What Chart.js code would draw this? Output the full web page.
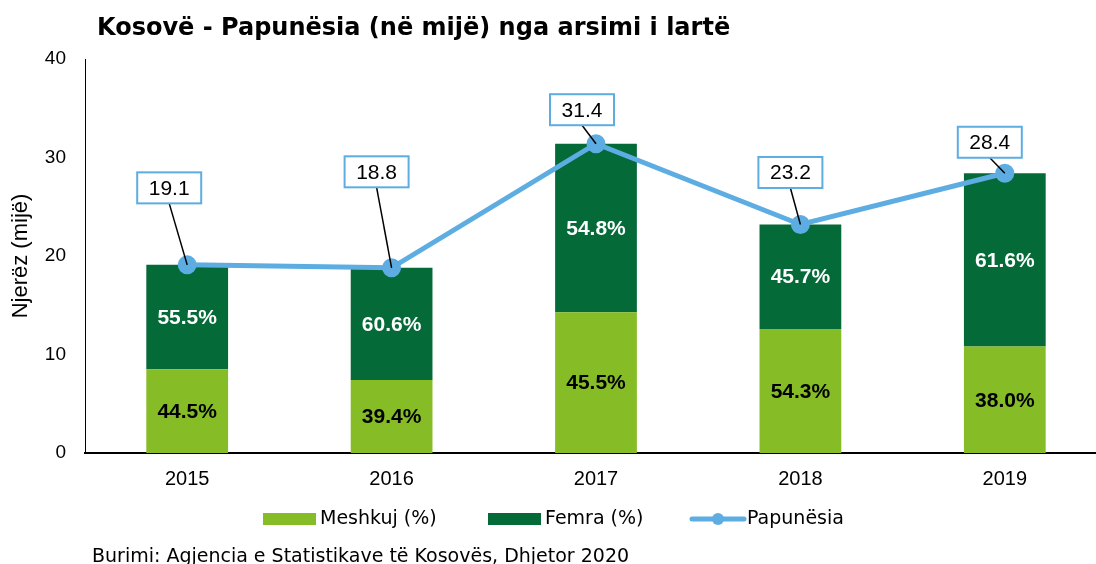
<!DOCTYPE html>
<html>
<head>
<meta charset="utf-8">
<script src="https://cdn.jsdelivr.net/npm/chart.js@4.4.1/dist/chart.umd.min.js"></script>
<style>
  html, body { margin: 0; padding: 0; background: #fff; overflow: hidden; }
  canvas { display: block; }
</style>
</head>
<body>
<canvas id="chart" width="1119" height="564"></canvas>
<script>
'use strict';

var years = ['2015', '2016', '2017', '2018', '2019'];
var totalUnemployed = [19.1, 18.8, 31.4, 23.2, 28.4];
var maleValues = [8.5, 7.4, 14.3, 12.6, 10.8];
var femaleValues = [10.6, 11.4, 17.1, 10.6, 17.6];
var malePctLabels = ['44.5%', '39.4%', '45.5%', '54.3%', '38.0%'];
var femalePctLabels = ['55.5%', '60.6%', '54.8%', '45.7%', '61.6%'];
var yTicks = [0, 10, 20, 30, 40];

// where the value boxes sit, relative to each point
var boxOffsets = [[-18, -77], [-15, -96], [-14, -34], [-10, -52], [-15, -31]];

var lightGreen = '#86bc25';
var darkGreen = '#046a38';
var blue = '#5dade2';
var arial = '"Liberation Sans", Arial, sans-serif';
var verdana = '"DejaVu Sans", Verdana, sans-serif';

var barLabels = {
    id: 'barLabels',
    afterDatasetsDraw: function(chart) {
        var ctx = chart.ctx;
        ctx.save();
        ctx.font = 'bold 21px ' + arial;
        ctx.textAlign = 'center';
        ctx.textBaseline = 'middle';
        [[0, malePctLabels, '#000'], [1, femalePctLabels, '#fff']].forEach(function(d) {
            chart.getDatasetMeta(d[0]).data.forEach(function(bar, i) {
                ctx.fillStyle = d[2];
                ctx.fillText(d[1][i], bar.x, (bar.y + bar.base) / 2 + 1);
            });
        });
        ctx.restore();
    }
};

var pointBoxes = {
    id: 'pointBoxes',
    afterDraw: function(chart) {
        var ctx = chart.ctx;
        ctx.save();
        ctx.font = '21px ' + arial;
        ctx.textAlign = 'center';
        ctx.textBaseline = 'middle';
        chart.getDatasetMeta(2).data.forEach(function(pt, i) {
            var cx = pt.x + boxOffsets[i][0];
            var cy = pt.y + boxOffsets[i][1];
            var w = 64, h = 31;
            ctx.strokeStyle = '#000';
            ctx.lineWidth = 1.5;
            ctx.beginPath();
            ctx.moveTo(cx, cy + h / 2);
            ctx.lineTo(pt.x, pt.y);
            ctx.stroke();
            ctx.fillStyle = '#fff';
            ctx.fillRect(cx - w / 2, cy - h / 2, w, h);
            ctx.strokeStyle = blue;
            ctx.lineWidth = 2;
            ctx.strokeRect(cx - w / 2, cy - h / 2, w, h);
            ctx.fillStyle = '#000';
            ctx.fillText(totalUnemployed[i].toFixed(1), cx, cy + 1);
        });
        ctx.restore();
    }
};

var extras = {
    id: 'extras',
    afterDraw: function(chart) {
        var ctx = chart.ctx;
        ctx.save();
        ctx.fillStyle = '#000';
        ctx.textBaseline = 'alphabetic';
        ctx.textAlign = 'left';
        ctx.font = 'bold 24px ' + verdana;
        ctx.fillText('Kosovë - Papunësia (në mijë) nga arsimi i lartë', 97, 35);

        // legend
        ctx.font = '19px ' + verdana;
        ctx.textBaseline = 'middle';
        var ly = 519;
        ctx.fillStyle = lightGreen;
        ctx.fillRect(263, ly - 6, 53, 12);
        ctx.fillStyle = '#000';
        ctx.fillText(chart.data.datasets[0].label, 320, ly);
        ctx.fillStyle = darkGreen;
        ctx.fillRect(488, ly - 6, 53, 12);
        ctx.fillStyle = '#000';
        ctx.fillText(chart.data.datasets[1].label, 545, ly);
        ctx.strokeStyle = blue;
        ctx.lineWidth = 5;
        ctx.lineCap = 'round';
        ctx.beginPath();
        ctx.moveTo(692, ly);
        ctx.lineTo(744, ly);
        ctx.stroke();
        ctx.fillStyle = blue;
        ctx.beginPath();
        ctx.arc(718, ly, 6, 0, Math.PI * 2);
        ctx.fill();
        ctx.fillStyle = '#000';
        ctx.fillText(chart.data.datasets[2].label, 747, ly);

        ctx.textBaseline = 'alphabetic';
        ctx.fillText('Burimi: Agjencia e Statistikave të Kosovës, Dhjetor 2020', 92, 562);
        ctx.restore();
    }
};

var ctx = document.getElementById('chart').getContext('2d');
new Chart(ctx, {
    data: {
        labels: years,
        datasets: [{
            type: 'bar',
            label: 'Meshkuj (%)',
            data: maleValues,
            backgroundColor: lightGreen,
            stack: 's',
            order: 2
        }, {
            type: 'bar',
            label: 'Femra (%)',
            data: femaleValues,
            backgroundColor: darkGreen,
            stack: 's',
            order: 2
        }, {
            type: 'line',
            label: 'Papunësia',
            data: totalUnemployed,
            borderColor: blue,
            backgroundColor: blue,
            borderWidth: 5,
            pointRadius: 7,
            pointBackgroundColor: blue,
            pointBorderColor: blue,
            tension: 0,
            order: 1
        }]
    },
    options: {
        responsive: false,
        animation: false,
        datasets: {
            bar: { barPercentage: 0.4, categoryPercentage: 1 }
        },
        layout: { padding: { top: 59, left: 0, right: 0, bottom: 0 } },
        plugins: {
            legend: { display: false },
            tooltip: { enabled: false },
            title: { display: false }
        },
        scales: {
            x: {
                stacked: true,
                grid: { display: false, drawTicks: false },
                border: { color: '#000', width: 2 },
                ticks: {
                    color: '#000',
                    padding: 14,
                    font: { family: arial, size: 20 }
                },
                afterFit: function(s) { s.height = 111; }
            },
            y: {
                stacked: true,
                min: 0,
                max: 40,
                afterBuildTicks: function(s) {
                    s.ticks = yTicks.map(function(v) { return { value: v }; });
                },
                grid: { display: false, drawOnChartArea: false, drawTicks: true, tickLength: 5, color: '#000' },
                border: { color: '#000', width: 1 },
                ticks: {
                    color: '#000',
                    padding: 14,
                    font: { family: arial, size: 19 }
                },
                title: {
                    display: true,
                    text: 'Njerëz (mijë)',
                    color: '#000',
                    padding: { top: 8, bottom: 0 },
                    font: { family: arial, size: 22 }
                },
                afterFit: function(s) { s.width = 85; }
            }
        }
    },
    plugins: [barLabels, pointBoxes, extras]
});
</script>
</body>
</html>
